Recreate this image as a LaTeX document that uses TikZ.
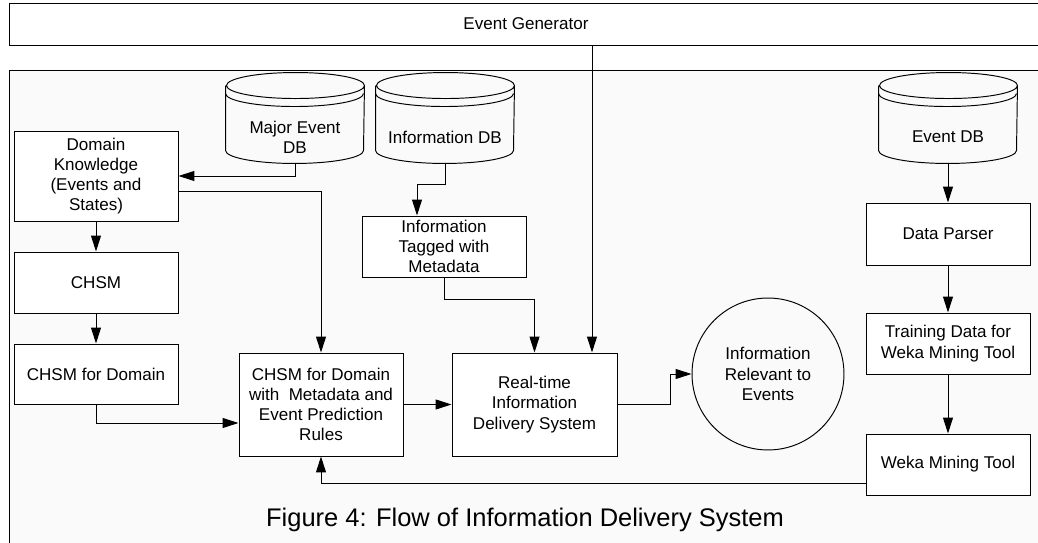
\documentclass[tikz,border=0pt]{standalone}
\usepackage{fontspec}
\setmainfont{Liberation Sans}
\usetikzlibrary{arrows.meta,shapes.geometric}

\newcommand{\dbcyl}[1]{%
  \draw ([yshift=0.5cm]#1.north west) -- ([yshift=0.26cm]#1.south west)
    arc[start angle=180, end angle=360, x radius=1.38cm, y radius=0.26cm]
    -- ([yshift=0.5cm]#1.north east)
    arc[start angle=0, end angle=360, x radius=1.38cm, y radius=0.26cm];
  \draw ([yshift=0.34cm]#1.north west)
    arc[start angle=180, end angle=360, x radius=1.38cm, y radius=0.26cm];
}

\begin{document}
\begin{tikzpicture}[x=0.02cm, y=0.02cm, line width=0.55pt,
    every node/.style={font=\fontsize{9.7}{11.5}\selectfont, align=center, inner sep=1pt},
    box/.style={draw, fill=white, minimum width=3.28cm},
    db/.style={minimum width=2.76cm, minimum height=1.04cm},
    arr/.style={-{Triangle[length=0.32cm, width=0.2cm]}}]
\path[use as bounding box, clip] (0,0) rectangle (1038,-543);
\draw[fill=black!2] (9,-70) rectangle (1060,-560);
\node[draw, fill=white, minimum width=20.68cm, minimum height=0.84cm] (eg) at (526,-24) {Event Generator};

\node[db] (med) at (295,-137) {Major Event\\DB};
\node[db] (idb) at (445,-137) {Information DB};
\node[db] (edb) at (948,-137) {Event DB};
\dbcyl{med}
\dbcyl{idb}
\dbcyl{edb}

\node[box, minimum height=1.8cm] (dk) at (96,-176) {Domain\\Knowledge\\(Events and\\States)};
\node[box, minimum height=1.22cm] (chsm) at (96,-282.5) {CHSM};
\node[box, minimum height=1.2cm] (cfd) at (96,-374) {CHSM for Domain};
\node[box, minimum height=2.06cm] (meta) at (321,-404.5) {CHSM for Domain\\with~ Metadata and\\Event Prediction\\Rules};
\node[box, minimum height=1.22cm] (tag) at (444,-246.5) {Information\\Tagged with\\Metadata};
\node[box, minimum width=3.3cm, minimum height=2.06cm] (rt) at (534.5,-404.5) {Real-time\\Information\\Delivery System};
\node[draw, circle, minimum size=3.04cm] (rel) at (768,-374) {Information\\Relevant to\\Events};
\node[box, minimum height=1.24cm] (dp) at (948,-234) {Data Parser};
\node[box, minimum height=1.22cm] (td) at (948,-343.5) {Training Data for\\Weka Mining Tool};
\node[box, minimum height=1.22cm] (weka) at (948,-464.5) {Weka Mining Tool};
\node[font=\fontsize{14.5}{17}\selectfont] (caption) at (525,-520) {Figure 4: Flow of Information Delivery System};

\coordinate (rtin) at ([xshift=1.15cm]rt.north);
\draw[arr] (med.south) |- (dk.east);
\draw[arr] ([yshift=-0.3cm]dk.east) -| (meta.north);
\draw[arr] (idb.south) -- ++(0,-21) -| ([xshift=-0.54cm]tag.north);
\draw[arr] (tag.south) -- ++(0,-22) -| (rt.north);
\draw[arr] (eg.south -| rtin) -- (rtin);
\draw[arr] (dk) -- (chsm);
\draw[arr] (chsm) -- (cfd);
\draw[arr] (cfd.south) |- ([yshift=-0.37cm]meta.west);
\draw[arr] (meta) -- (rt);
\draw[arr] (rt.east) -- ++(53,0) |- (rel.west);
\draw[arr] (edb) -- (dp);
\draw[arr] (dp) -- (td);
\draw[arr] (td) -- (weka);
\draw[arr] ([yshift=-0.37cm]weka.west) -| (meta.south);
\end{tikzpicture}
\end{document}
